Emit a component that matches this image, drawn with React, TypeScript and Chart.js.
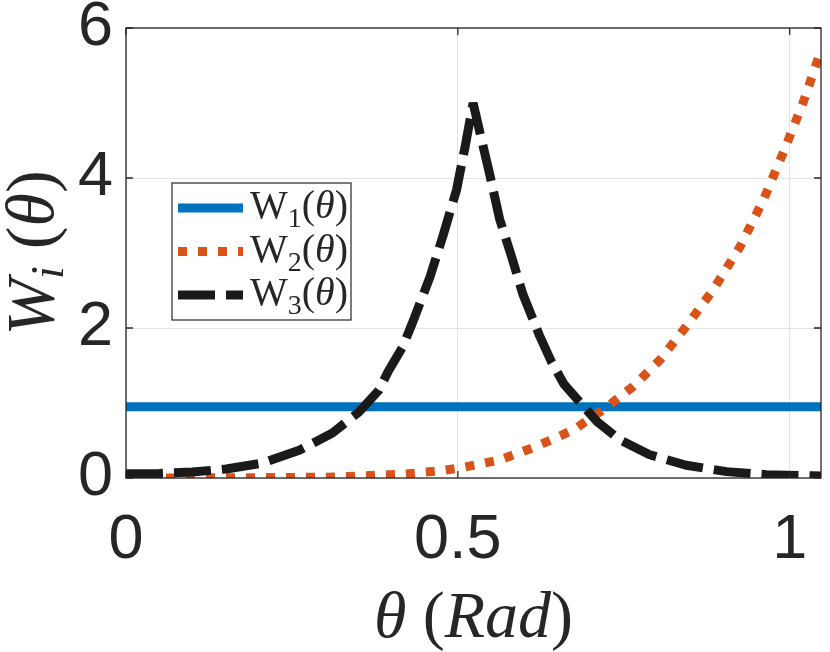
import { useEffect, useRef } from "react"
import { Chart, registerables } from "chart.js"

Chart.register(...registerables)

const THETA_MAX = Math.PI / 3

// W1: constant weight
const w1Theta = [0, THETA_MAX]
const w1Values = [0.95, 0.95]

// W2: rising towards pi/3
const w2Theta = [0, 0.1, 0.2, 0.3, 0.36, 0.417, 0.477, 0.507, 0.563, 0.618, 0.674, 0.719, 0.764, 0.804, 0.844, 0.884, 0.925, 0.96, 0.99, 1.02, THETA_MAX]
const w2Values = [0, 0, 0.005, 0.01, 0.03, 0.05, 0.1, 0.14, 0.24, 0.42, 0.64, 0.91, 1.22, 1.57, 2.02, 2.5, 3.08, 3.7, 4.33, 5.0, 5.7]

// W3: peaked at pi/6
const w3Theta = [0, 0.05, 0.1, 0.151, 0.206, 0.261, 0.311, 0.351, 0.381, 0.395, 0.417, 0.433, 0.458, 0.478, 0.498, 0.511, 0.523, 0.536, 0.548, 0.563, 0.581, 0.598, 0.623, 0.641, 0.66, 0.69, 0.71, 0.744, 0.789, 0.844, 0.905, 0.965, 1.035, THETA_MAX]
const w3Values = [0.055, 0.06, 0.08, 0.12, 0.2, 0.37, 0.6, 0.88, 1.17, 1.42, 1.75, 2.1, 2.68, 3.24, 3.84, 4.42, 5.0, 4.5, 4.05, 3.45, 2.95, 2.45, 1.9, 1.55, 1.25, 0.95, 0.75, 0.51, 0.31, 0.17, 0.085, 0.045, 0.03, 0.025]

const seriesLabels = ["W1(θ)", "W2(θ)", "W3(θ)"]
const seriesColors = ["#0072BD", "#D95319", "#1a1a1a"]

const xTicks = [0, 0.5, 1]
const yTicks = [0, 2, 4, 6]

const AXIS_COLOR = "#262626"
const SERIF = "'Liberation Serif', 'DejaVu Serif', serif"
const SANS = "'Liberation Sans', Arial, sans-serif"

type Run = { text: string; font: string; dy?: number }

function drawRuns(ctx: CanvasRenderingContext2D, runs: Run[], x: number, y: number, center: boolean) {
  let total = 0
  for (const r of runs) {
    ctx.font = r.font
    total += ctx.measureText(r.text).width
  }
  let cx = center ? x - total / 2 : x
  ctx.textAlign = "left"
  ctx.textBaseline = "alphabetic"
  for (const r of runs) {
    ctx.font = r.font
    ctx.fillText(r.text, cx, y + (r.dy ?? 0))
    cx += ctx.measureText(r.text).width
  }
}

const toPoints = (xs: number[], ys: number[]) => xs.map((x, i) => ({ x, y: ys[i] }))

const decorPlugin = {
  id: "matlabDecor",
  afterDatasetsDraw(chart: Chart) {
    const ctx = chart.ctx
    const { left, right, top, bottom } = chart.chartArea
    const xs = chart.scales.x
    const ys = chart.scales.y
    ctx.save()

    // axes box and inner ticks
    ctx.strokeStyle = AXIS_COLOR
    ctx.lineWidth = 1.3
    ctx.strokeRect(left, top, right - left, bottom - top)
    const tl = 7
    ctx.beginPath()
    for (const t of xs.ticks) {
      const px = xs.getPixelForValue(t.value)
      ctx.moveTo(px, bottom)
      ctx.lineTo(px, bottom - tl)
      ctx.moveTo(px, top)
      ctx.lineTo(px, top + tl)
    }
    for (const t of ys.ticks) {
      const py = ys.getPixelForValue(t.value)
      ctx.moveTo(left, py)
      ctx.lineTo(left + tl, py)
      ctx.moveTo(right, py)
      ctx.lineTo(right - tl, py)
    }
    ctx.stroke()

    // legend
    const lx = 172
    const ly = 183
    const lw = 179
    const lh = 137
    ctx.fillStyle = "#ffffff"
    ctx.fillRect(lx, ly, lw, lh)
    ctx.strokeStyle = AXIS_COLOR
    ctx.lineWidth = 1.2
    ctx.strokeRect(lx, ly, lw, lh)
    chart.data.datasets.forEach((ds: any, i: number) => {
      const rowY = 208 + i * 43.5
      ctx.save()
      ctx.beginPath()
      ctx.rect(lx + 1, ly + 1, lw - 2, lh - 2)
      ctx.clip()
      ctx.strokeStyle = ds.borderColor
      ctx.lineWidth = ds.borderWidth
      ctx.lineCap = "butt"
      ctx.setLineDash(ds.borderDash || [])
      ctx.beginPath()
      ctx.moveTo(178, rowY)
      ctx.lineTo(243, rowY)
      ctx.stroke()
      ctx.restore()
      const m = /^(\D+)(\d+)\((.+)\)$/.exec(ds.label)
      if (m) {
        ctx.fillStyle = AXIS_COLOR
        drawRuns(
          ctx,
          [
            { text: m[1], font: `40px ${SERIF}` },
            { text: m[2], font: `28px ${SERIF}`, dy: 9 },
            { text: "(", font: `40px ${SERIF}` },
            { text: m[3], font: `italic 40px ${SERIF}` },
            { text: ")", font: `40px ${SERIF}` },
          ],
          250,
          rowY + 10,
          false
        )
      }
    })

    // axis titles
    ctx.fillStyle = AXIS_COLOR
    drawRuns(
      ctx,
      [
        { text: "θ", font: `italic 66px ${SERIF}` },
        { text: " (", font: `66px ${SERIF}` },
        { text: "Rad", font: `italic 66px ${SERIF}` },
        { text: ")", font: `66px ${SERIF}` },
      ],
      (left + right) / 2,
      637,
      true
    )
    ctx.save()
    ctx.translate(53, (top + bottom) / 2)
    ctx.rotate(-Math.PI / 2)
    drawRuns(
      ctx,
      [
        { text: "W", font: `italic 68px ${SERIF}` },
        { text: "i", font: `italic 46px ${SERIF}`, dy: 10 },
        { text: " (", font: `68px ${SERIF}` },
        { text: "θ", font: `italic 68px ${SERIF}` },
        { text: ")", font: `68px ${SERIF}` },
      ],
      0,
      0,
      true
    )
    ctx.restore()

    ctx.restore()
  },
}

export default function App() {
  const chartRef = useRef<HTMLCanvasElement>(null)
  const chartInstance = useRef<Chart | null>(null)

  useEffect(() => {
    document.body.style.margin = "0"
    if (!chartRef.current) return
    if (chartInstance.current) chartInstance.current.destroy()
    const ctx = chartRef.current.getContext("2d")
    if (!ctx) return

    chartInstance.current = new Chart(ctx, {
      type: "line",
      data: {
        datasets: [
          {
            label: seriesLabels[0],
            data: toPoints(w1Theta, w1Values),
            borderColor: seriesColors[0],
            borderWidth: 9,
            pointRadius: 0,
            order: 3,
          },
          {
            label: seriesLabels[1],
            data: toPoints(w2Theta, w2Values),
            borderColor: seriesColors[1],
            borderWidth: 9,
            borderDash: [9, 11],
            borderCapStyle: "butt",
            pointRadius: 0,
            order: 2,
          },
          {
            label: seriesLabels[2],
            data: toPoints(w3Theta, w3Values),
            borderColor: seriesColors[2],
            borderWidth: 9,
            borderDash: [37, 11],
            borderCapStyle: "butt",
            borderJoinStyle: "bevel",
            pointRadius: 0,
            order: 1,
          },
        ],
      },
      options: {
        animation: false,
        responsive: true,
        maintainAspectRatio: false,
        layout: { padding: { top: 28, right: 9, left: 0, bottom: 0 } },
        plugins: {
          legend: { display: false },
          tooltip: { enabled: false },
        },
        scales: {
          x: {
            type: "linear",
            min: 0,
            max: THETA_MAX,
            afterBuildTicks: (scale: any) => {
              scale.ticks = xTicks.map((v) => ({ value: v }))
            },
            afterFit: (scale: any) => {
              scale.height = 174
            },
            grid: { color: "#e3e3e3", lineWidth: 1, drawTicks: false },
            border: { display: false },
            ticks: {
              includeBounds: false,
              autoSkip: false,
              maxRotation: 0,
              padding: 0,
              color: AXIS_COLOR,
              callback: (v: any) => String(v),
              font: { family: SANS, size: 63, lineHeight: 2 },
            },
          },
          y: {
            type: "linear",
            min: 0,
            max: 6,
            afterBuildTicks: (scale: any) => {
              scale.ticks = yTicks.map((v) => ({ value: v }))
            },
            afterFit: (scale: any) => {
              scale.width = 126
            },
            grid: { color: "#e3e3e3", lineWidth: 1, drawTicks: false },
            border: { display: false },
            ticks: {
              padding: 13,
              color: AXIS_COLOR,
              callback: (v: any) => String(v),
              font: { family: SANS, size: 63, lineHeight: 0.2 },
            },
          },
        },
      },
      plugins: [decorPlugin],
    })

    return () => {
      if (chartInstance.current) {
        chartInstance.current.destroy()
        chartInstance.current = null
      }
    }
  }, [])

  return (
    <div style={{ position: "relative", width: 830, height: 652 }}>
      <canvas ref={chartRef} />
    </div>
  )
}
